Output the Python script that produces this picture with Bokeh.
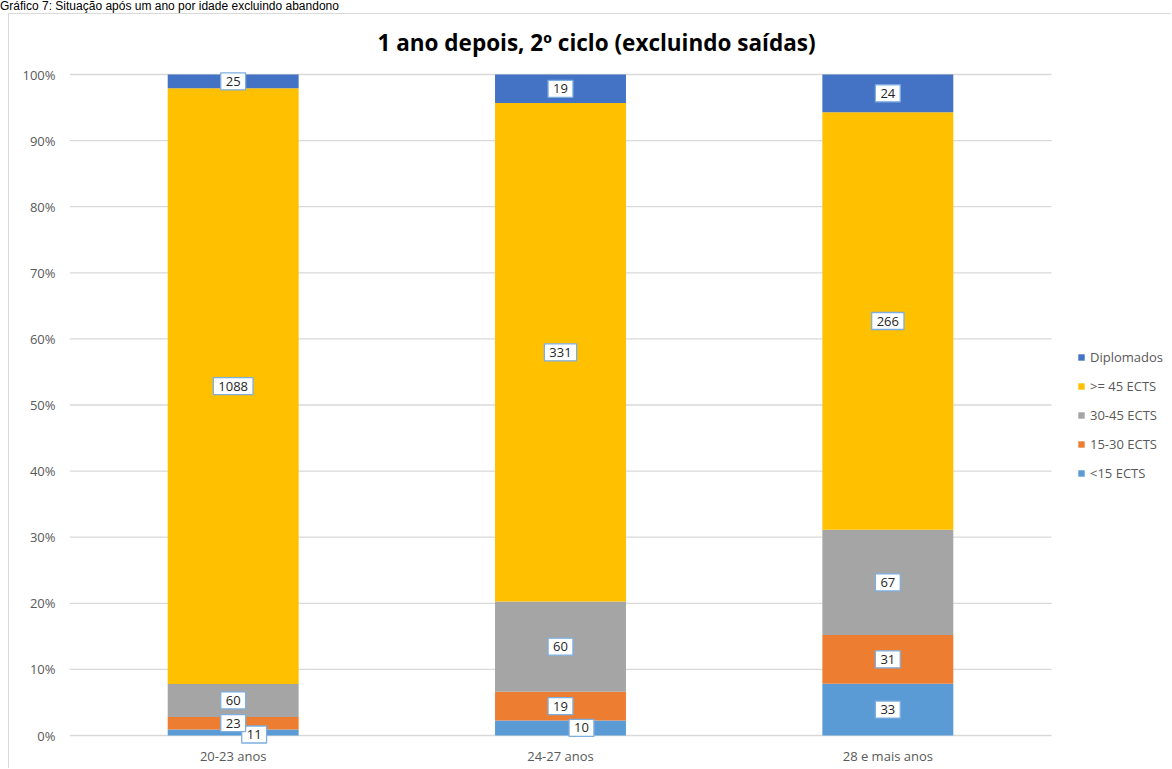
import numpy as np
from bokeh.plotting import figure
from bokeh.layouts import column
from bokeh.models import (ColumnDataSource, Range1d, Label, Div,
                          Legend, LegendItem, NumeralTickFormatter, FixedTicker)
from bokeh.embed import file_html
from bokeh.resources import INLINE

# ---- data ----
categories = ["20-23 anos", "24-27 anos", "28 e mais anos"]
series = ["<15 ECTS", "15-30 ECTS", "30-45 ECTS", ">= 45 ECTS", "Diplomados"]
lt15 = [11, 10, 33]
ects15_30 = [23, 19, 31]
ects30_45 = [60, 60, 67]
ge45 = [1088, 331, 266]
diplomados = [25, 19, 24]
y_ticks = [0, 0.1, 0.2, 0.3, 0.4, 0.5, 0.6, 0.7, 0.8, 0.9, 1.0]
caption = "Gráfico 7: Situação após um ano por idade excluindo abandono"
title_text = "1 ano depois, 2º ciclo (excluindo saídas)"

# ---- styles ----
colors = ["#5B9BD5", "#ED7D31", "#A5A5A5", "#FFC000", "#4472C4"]
label_x_offsets = [[21, 21, 0], [0, 0, 0], [0, 0, 0], [0, 0, 0], [0, 0, 0]]
label_y_offsets = [[-2, 0, 0], [0, 0, 0], [0, 0, 0], [0, 0, 0], [0, 0, 0]]
FONT = "Open Sans"
TXT = "#595959"

counts = np.array([lt15, ects15_30, ects30_45, ge45, diplomados], dtype=float)
totals = counts.sum(axis=0)
fracs = counts / totals
keys = ["s%d" % i for i in range(len(series))]
xc = [j + 0.5 for j in range(len(categories))]
data = {"x": xc}
for k, f in zip(keys, fracs):
    data[k] = list(f)
src = ColumnDataSource(data)

CAP_H = 13
W, H = 1163, 769 - CAP_H - 1
ML, MR, MT, MB = 60, 0, 53, 21
PX_PER_UNIT = 661.0          # vertical pixels for 0..100 %
BARS_W = 982.0               # horizontal pixels spanned by the categories
FW = W - ML - MR
x_end = len(categories) * FW / BARS_W

p = figure(x_range=Range1d(0, x_end), y_range=Range1d(-13 / PX_PER_UNIT, 1 + 7 / PX_PER_UNIT),
           width=W, height=H, output_backend="svg", toolbar_location=None,
           min_border_left=ML, min_border_right=MR, min_border_top=MT, min_border_bottom=MB)
p.outline_line_color = None
p.background_fill_color = "white"
p.border_fill_color = "white"
p.margin = (0, 0, 0, 8)
p.styles = {"border-left": "1px solid #D9D9D9", "border-top": "1px solid #D9D9D9"}

# horizontal gridlines spanning the category area only
p.segment(x0=[0] * len(y_ticks), x1=[len(categories)] * len(y_ticks), y0=y_ticks, y1=y_ticks,
          line_color="#D9D9D9", line_width=1.3)

renderers = p.vbar_stack(keys, x="x", width=0.4, color=colors, source=src, line_color=None)

# data labels
cum = np.cumsum(fracs, axis=0)
mids = cum - fracs / 2
for i in range(len(series)):
    for j in range(len(categories)):
        p.add_layout(Label(x=xc[j], y=float(mids[i, j]), text=str(int(counts[i, j])),
                           x_offset=label_x_offsets[i][j], y_offset=label_y_offsets[i][j],
                           text_align="center", text_baseline="middle", text_font=FONT,
                           text_font_size="13px", text_color="#262626",
                           background_fill_color="white", border_line_color="#7EAEE0",
                           border_line_width=1.3,
                           padding={"left": 5, "right": 5, "top": 4, "bottom": 4}))

# axes
p.yaxis.ticker = FixedTicker(ticks=y_ticks)
p.yaxis.formatter = NumeralTickFormatter(format="0%")
p.xaxis.ticker = FixedTicker(ticks=xc)
p.xaxis.major_label_overrides = {x: c for x, c in zip(xc, categories)}
for ax in (p.xaxis[0], p.yaxis[0]):
    ax.axis_line_color = None
    ax.major_tick_line_color = None
    ax.minor_tick_line_color = None
    ax.major_tick_out = 0
    ax.major_tick_in = 0
    ax.minor_tick_out = 0
    ax.major_label_text_font = FONT
    ax.major_label_text_font_size = "13px"
    ax.major_label_text_color = TXT
p.yaxis.major_label_standoff = 14
p.xaxis.major_label_standoff = -2
p.xgrid.grid_line_color = None
p.ygrid.grid_line_color = None

# legend inside the (extended) frame, right of the bars
items = [LegendItem(label=series[i], renderers=[renderers[i]]) for i in reversed(range(len(series)))]
legend = Legend(items=items, location=(1008, 265), border_line_color=None,
                background_fill_alpha=0, padding=0, margin=0, spacing=9,
                glyph_width=8, glyph_height=8, label_height=20, label_standoff=5,
                label_text_font=FONT, label_text_font_size="13px", label_text_color=TXT)
p.add_layout(legend)

# chart title
p.title.text = title_text
p.title.align = "left"
p.title.offset = 308
p.title.standoff = 20
p.title.text_font = FONT
p.title.text_font_size = "22.5px"
p.title.text_line_height = 1.0
p.title.text_font_style = "bold"
p.title.text_color = "#000000"

cap = Div(text=caption, width=1172, height=CAP_H, margin=0,
          styles={"font-family": "Liberation Sans", "font-size": "12px", "line-height": "13px",
                  "color": "#000000", "white-space": "nowrap"})

layout = column(cap, p, margin=0, spacing=0)
open("out.html", "w").write(file_html(layout, INLINE))
